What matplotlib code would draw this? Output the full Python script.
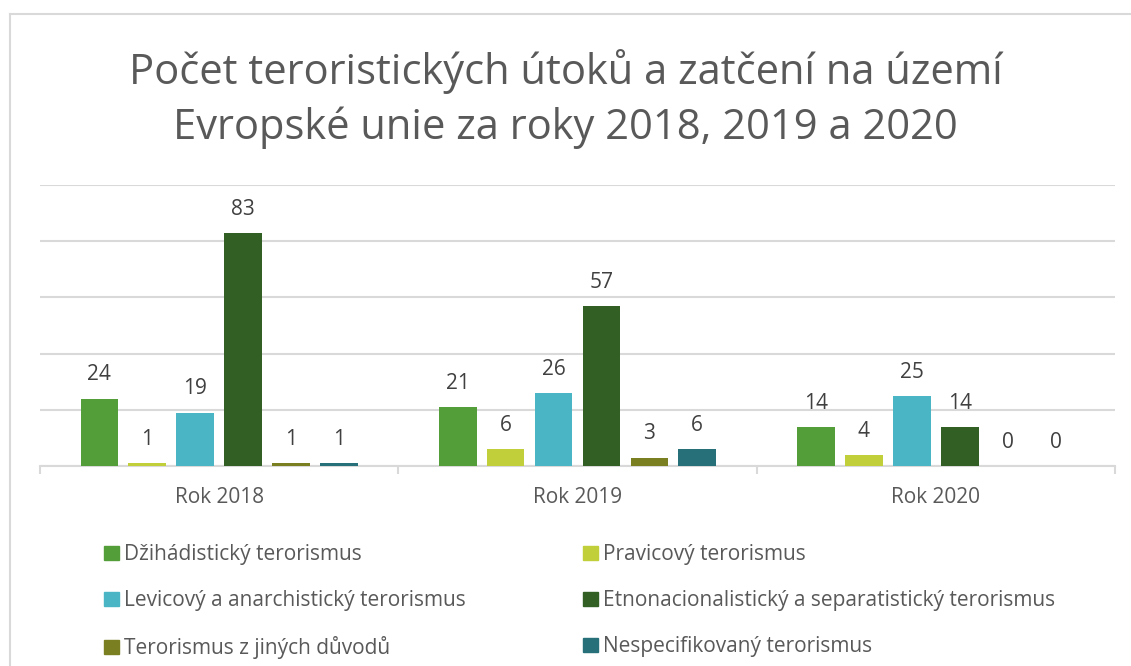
import matplotlib
matplotlib.use("Agg")
import matplotlib.pyplot as plt
import numpy as np
from matplotlib.patches import Rectangle
from matplotlib.lines import Line2D

categories = ["Rok 2018", "Rok 2019", "Rok 2020"]
series_names = [
    "Džihádistický terorismus",
    "Pravicový terorismus",
    "Levicový a anarchistický terorismus",
    "Etnonacionalistický a separatistický terorismus",
    "Terorismus z jiných důvodů",
    "Nespecifikovaný terorismus",
]
values = [
    [24, 21, 14],
    [1, 6, 4],
    [19, 26, 25],
    [83, 57, 14],
    [1, 3, 0],
    [1, 6, 0],
]
colors = ["#549E39", "#C0CF3A", "#4AB5C4", "#325F23", "#7A7F22", "#27707A"]
title = "Počet teroristických útoků a zatčení na území\nEvropské unie za roky 2018, 2019 a 2020"

plt.rcParams['font.family'] = ['Open Sans', 'DejaVu Sans']
txt = "#595959"

fig = plt.figure(figsize=(11.31, 6.66), dpi=100)
# outer border (top and left visible)
fig.add_artist(Line2D([10/1131, 10/1131], [0, 1 - 14/666], transform=fig.transFigure, color="#D9D9D9", lw=1.5))
fig.add_artist(Line2D([10/1131, 1], [1 - 14/666, 1 - 14/666], transform=fig.transFigure, color="#D9D9D9", lw=1.5))

ax = fig.add_axes([40/1131, 1 - 466/666, (1115 - 40)/1131, (466 - 185)/666])
n = len(series_names)
pitch = 0.1337
width = 0.105
x = np.arange(len(categories))
for i, (name, vals, c) in enumerate(zip(series_names, values, colors)):
    pos = x + (i - (n - 1) / 2) * pitch
    ax.bar(pos, vals, width=width, color=c, label=name, zorder=3)
    for p, v in zip(pos, vals):
        ax.annotate(str(v), (p, v), xytext=(0, 17), textcoords="offset points",
                    ha="center", va="center", fontsize=15, color="#404040")

ax.set_xlim(-0.5, len(categories) - 0.5)
ax.set_ylim(0, 100)
ax.set_yticks([0, 20, 40, 60, 80, 100])
ax.yaxis.grid(True, color="#D9D9D9", lw=1.5, zorder=0)
ax.tick_params(axis="y", left=False, labelleft=False)
for s in ["top", "right", "left"]:
    ax.spines[s].set_visible(False)
ax.spines["bottom"].set_color("#D9D9D9")
ax.spines["bottom"].set_linewidth(1.5)
ax.set_xticks(np.arange(-0.5, len(categories), 1.0), minor=False)
ax.set_xticklabels([])
ax.tick_params(axis="x", length=6, color="#D9D9D9", width=1.5)
for xi, cat in zip(x, categories):
    ax.text(xi, -0.112, cat, transform=ax.get_xaxis_transform(), ha="center", va="center",
            fontsize=15, color=txt)

fig.text(0.5, 1 - 99/666, title, ha="center", va="center", fontsize=30, color=txt, linespacing=1.4)

handles = [Rectangle((0, 0), 1, 1, color=c) for c in colors]
common = dict(loc="upper left", frameon=False, fontsize=15, labelcolor=txt, handlelength=0.7,
              handleheight=0.7, handletextpad=0.25, labelspacing=1.2, borderpad=0)
leg1 = fig.legend(handles[0::2], series_names[0::2], bbox_to_anchor=(94/1131, 1 - 534/666), **common)
leg2 = fig.legend(handles[1::2], series_names[1::2], bbox_to_anchor=(573/1131, 1 - 534/666), **common)
fig.savefig("out.png", dpi=100, facecolor="white")
